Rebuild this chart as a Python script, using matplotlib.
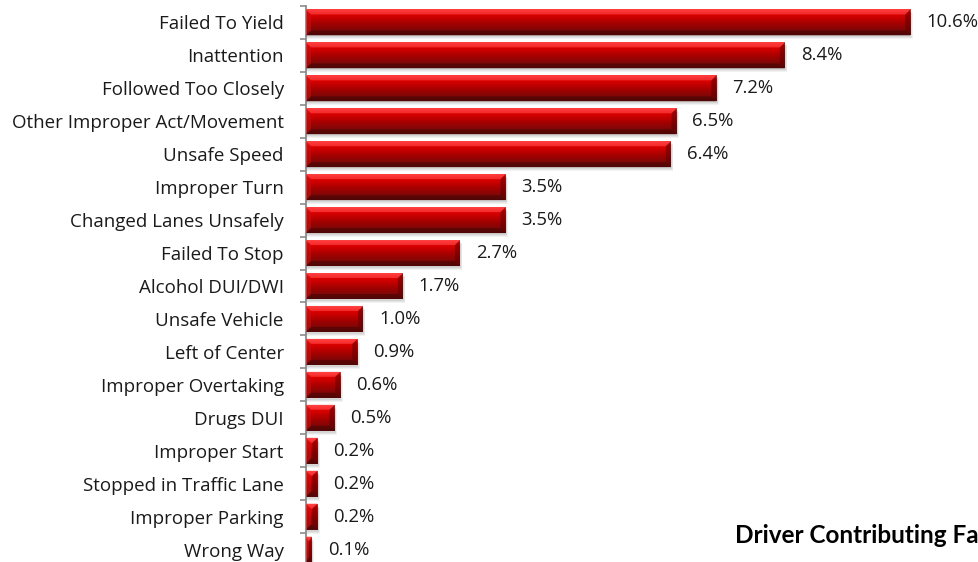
import numpy as np
import matplotlib
matplotlib.use("Agg")
import matplotlib.pyplot as plt
from matplotlib.patches import Rectangle, Polygon
from matplotlib.colors import LinearSegmentedColormap

categories = ["Failed To Yield", "Inattention", "Followed Too Closely",
              "Other Improper Act/Movement", "Unsafe Speed", "Improper Turn",
              "Changed Lanes Unsafely", "Failed To Stop", "Alcohol DUI/DWI",
              "Unsafe Vehicle", "Left of Center", "Improper Overtaking",
              "Drugs DUI", "Improper Start", "Stopped in Traffic Lane",
              "Improper Parking", "Wrong Way"]
values = [10.6, 8.4, 7.2, 6.5, 6.4, 3.5, 3.5, 2.7, 1.7, 1.0, 0.9, 0.6, 0.5,
          0.2, 0.2, 0.2, 0.1]
value_labels = ["10.6%", "8.4%", "7.2%", "6.5%", "6.4%", "3.5%", "3.5%", "2.7%",
                "1.7%", "1.0%", "0.9%", "0.6%", "0.5%", "0.2%", "0.2%", "0.2%", "0.1%"]
title = "Driver Contributing Factors"

W, H = 979, 562
fig = plt.figure(figsize=(W / 100, H / 100), dpi=100)
fig.patch.set_facecolor("white")

xmax = 11.6
left_px, px_per_unit = 306, 57.0
ax_left = left_px / W
ax_w = xmax * px_per_unit / W
top_px, bot_px = 6, 566
ax = fig.add_axes([ax_left, 1 - bot_px / H, ax_w, (bot_px - top_px) / H])
n = len(categories)
ax.set_xlim(0, xmax)
ax.set_ylim(n - 0.5, -0.5)

bar_h = 0.79
cmap = LinearSegmentedColormap.from_list("redbar", [
    (0.0, "#ff5050"), (0.08, "#ff2020"), (0.2, "#e00000"),
    (0.55, "#a80000"), (0.85, "#7a0808"), (1.0, "#5a0a0a")])
grad = np.linspace(0, 1, 64).reshape(-1, 1)

unit_y_px = (bot_px - top_px) / n
bev_px = 5
bev_y = bev_px / unit_y_px
bev_x = bev_px / px_per_unit

for i, v in enumerate(values):
    y0 = i - bar_h / 2
    y1 = i + bar_h / 2
    for k, a in [(4, 0.10), (3, 0.12), (2, 0.15)]:
        sx = k * 0.6 / px_per_unit
        sy = k / unit_y_px
        ax.add_patch(Rectangle((0, y0 + sy), v + sx, bar_h, facecolor="#808080",
                               edgecolor="none", alpha=a, zorder=1))
    rect = Rectangle((0, y0), v, bar_h, facecolor="none", edgecolor="none", zorder=2)
    ax.add_patch(rect)
    im = ax.imshow(grad, cmap=cmap, aspect="auto", extent=(0, v, y1, y0),
                   interpolation="bicubic", zorder=2)
    im.set_clip_path(rect)
    bx = min(bev_x, v / 2)
    by = min(bev_y, bar_h / 2)
    ax.add_patch(Polygon([(0, y0), (bx, y0 + by), (bx, y1 - by), (0, y1)],
                         closed=True, facecolor="#d01010", edgecolor="none",
                         alpha=0.55, zorder=3))
    ax.add_patch(Polygon([(v, y0), (v - bx, y0 + by), (v - bx, y1 - by), (v, y1)],
                         closed=True, facecolor="#600000", edgecolor="none",
                         alpha=0.55, zorder=3))
    ax.add_patch(Polygon([(0, y0), (v, y0), (v - bx, y0 + by), (bx, y0 + by)],
                         closed=True, facecolor="#ff4a4a", edgecolor="none",
                         alpha=0.6, zorder=3))
    ax.add_patch(Polygon([(0, y1), (v, y1), (v - bx, y1 - by), (bx, y1 - by)],
                         closed=True, facecolor="#4a0505", edgecolor="none",
                         alpha=0.6, zorder=3))
    ax.annotate(value_labels[i], xy=(v, i), xytext=(11.5, 0),
                textcoords="offset points", va="center", ha="left",
                fontsize=13.3, family="Open Sans", color="#1a1a1a")

ax.set_yticks(range(n))
ax.set_yticklabels(categories, family="Open Sans", fontsize=13.5, color="#1a1a1a")
ax.tick_params(axis="y", which="major", length=0, pad=16)
ax.set_yticks(np.arange(-0.5, n, 1.0), minor=True)
ax.tick_params(axis="y", which="minor", length=4, width=1.2, color="#8c8c8c",
               direction="out")
ax.set_xticks([])
for s in ["top", "right", "bottom"]:
    ax.spines[s].set_visible(False)
ax.spines["left"].set_color("#8c8c8c")
ax.spines["left"].set_linewidth(1.3)
ax.set_facecolor("none")

fig.text(735 / W, 1 - 543 / H, title, fontsize=17.5, fontweight="bold",
         family="Lato", color="#000000", ha="left", va="baseline")

fig.savefig("out.png", dpi=100)
